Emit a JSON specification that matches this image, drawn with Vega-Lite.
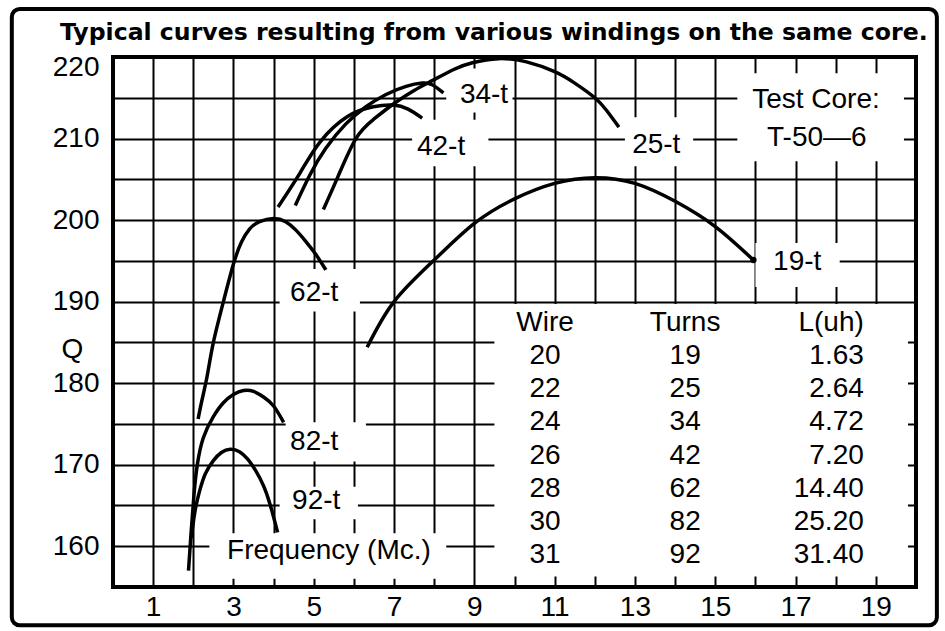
{
  "$schema": "https://vega.github.io/schema/vega-lite/v6.json",
  "width": 803,
  "height": 530,
  "autosize": {"type": "none"},
  "padding": {"left": 113, "top": 57, "right": 29, "bottom": 44},
  "background": "white",
  "title": {
    "text": "Typical curves resulting from various windings on the same core.",
    "anchor": "start",
    "frame": "group",
    "dx": -53,
    "font": "DejaVu Sans",
    "fontSize": 23.6,
    "fontWeight": "bold",
    "color": "black",
    "baseline": "alphabetic",
    "offset": -57
  },
  "config": {
    "font": "Liberation Sans",
    "view": {"stroke": "black", "strokeWidth": 4}
  },
  "datasets": {
    "curves": [
      {"c": "92-t", "x": 1.95, "q": 161.0}, {"c": "92-t", "x": 2.05, "q": 164.5}, {"c": "92-t", "x": 2.17, "q": 167.0},
      {"c": "92-t", "x": 2.3, "q": 168.9}, {"c": "92-t", "x": 2.5, "q": 170.5}, {"c": "92-t", "x": 2.7, "q": 171.5},
      {"c": "92-t", "x": 2.92, "q": 171.9}, {"c": "92-t", "x": 3.15, "q": 171.6}, {"c": "92-t", "x": 3.35, "q": 170.7},
      {"c": "92-t", "x": 3.55, "q": 169.3}, {"c": "92-t", "x": 3.75, "q": 167.4}, {"c": "92-t", "x": 3.92, "q": 165.0},
      {"c": "92-t", "x": 4.1, "q": 161.7},
      {"c": "82-t", "x": 1.88, "q": 157.0}, {"c": "82-t", "x": 1.95, "q": 162.0}, {"c": "82-t", "x": 2.02, "q": 166.5},
      {"c": "82-t", "x": 2.1, "q": 170.0}, {"c": "82-t", "x": 2.25, "q": 173.3}, {"c": "82-t", "x": 2.5, "q": 175.9},
      {"c": "82-t", "x": 2.75, "q": 177.6}, {"c": "82-t", "x": 3.0, "q": 178.6}, {"c": "82-t", "x": 3.25, "q": 179.1},
      {"c": "82-t", "x": 3.5, "q": 179.0}, {"c": "82-t", "x": 3.75, "q": 178.3}, {"c": "82-t", "x": 4.0, "q": 177.2},
      {"c": "82-t", "x": 4.25, "q": 175.2},
      {"c": "62-t", "x": 2.12, "q": 175.6}, {"c": "62-t", "x": 2.22, "q": 178.0}, {"c": "62-t", "x": 2.35, "q": 181.0},
      {"c": "62-t", "x": 2.5, "q": 185.0}, {"c": "62-t", "x": 2.75, "q": 190.0}, {"c": "62-t", "x": 3.0, "q": 194.6},
      {"c": "62-t", "x": 3.2, "q": 197.3}, {"c": "62-t", "x": 3.4, "q": 198.9}, {"c": "62-t", "x": 3.65, "q": 199.8},
      {"c": "62-t", "x": 4.0, "q": 200.2}, {"c": "62-t", "x": 4.3, "q": 199.8}, {"c": "62-t", "x": 4.55, "q": 198.8},
      {"c": "62-t", "x": 4.8, "q": 197.4}, {"c": "62-t", "x": 5.05, "q": 195.8}, {"c": "62-t", "x": 5.3, "q": 193.9},
      {"c": "42-t", "x": 4.11, "q": 201.6}, {"c": "42-t", "x": 4.66, "q": 205.8}, {"c": "42-t", "x": 5.16, "q": 209.6},
      {"c": "42-t", "x": 5.84, "q": 212.7}, {"c": "42-t", "x": 6.48, "q": 213.9}, {"c": "42-t", "x": 6.98, "q": 214.1},
      {"c": "42-t", "x": 7.35, "q": 213.6}, {"c": "42-t", "x": 7.7, "q": 212.5},
      {"c": "34-t", "x": 4.54, "q": 201.8}, {"c": "34-t", "x": 4.9, "q": 205.5}, {"c": "34-t", "x": 5.3, "q": 208.8},
      {"c": "34-t", "x": 5.8, "q": 211.8}, {"c": "34-t", "x": 6.3, "q": 213.9}, {"c": "34-t", "x": 6.8, "q": 215.4},
      {"c": "34-t", "x": 7.3, "q": 216.4}, {"c": "34-t", "x": 7.7, "q": 216.8}, {"c": "34-t", "x": 7.95, "q": 216.6},
      {"c": "34-t", "x": 8.23, "q": 215.6},
      {"c": "25-t", "x": 5.24, "q": 201.3}, {"c": "25-t", "x": 5.6, "q": 205.3}, {"c": "25-t", "x": 6.05, "q": 210.0},
      {"c": "25-t", "x": 6.5, "q": 212.4}, {"c": "25-t", "x": 7.0, "q": 214.3}, {"c": "25-t", "x": 7.5, "q": 215.9},
      {"c": "25-t", "x": 7.95, "q": 217.1}, {"c": "25-t", "x": 8.5, "q": 218.5}, {"c": "25-t", "x": 8.95, "q": 219.3},
      {"c": "25-t", "x": 9.6, "q": 219.8}, {"c": "25-t", "x": 10.3, "q": 219.4}, {"c": "25-t", "x": 11.0, "q": 218.2},
      {"c": "25-t", "x": 11.5, "q": 216.8}, {"c": "25-t", "x": 12.0, "q": 215.0}, {"c": "25-t", "x": 12.3, "q": 213.4},
      {"c": "25-t", "x": 12.6, "q": 211.4},
      {"c": "19-t", "x": 6.33, "q": 184.4}, {"c": "19-t", "x": 7.0, "q": 190.0}, {"c": "19-t", "x": 8.0, "q": 195.1},
      {"c": "19-t", "x": 9.0, "q": 199.6}, {"c": "19-t", "x": 10.0, "q": 202.6}, {"c": "19-t", "x": 11.0, "q": 204.5},
      {"c": "19-t", "x": 12.0, "q": 205.2}, {"c": "19-t", "x": 13.0, "q": 204.5}, {"c": "19-t", "x": 14.0, "q": 202.3},
      {"c": "19-t", "x": 15.0, "q": 199.2}, {"c": "19-t", "x": 15.95, "q": 195.1}
    ],
    "labels": [
      {"t": "34-t", "x": 8.64, "q": 215.35},
      {"t": "42-t", "x": 7.57, "q": 209.0},
      {"t": "25-t", "x": 12.93, "q": 209.2},
      {"t": "Test Core:", "x": 15.92, "q": 214.7},
      {"t": "T-50—6", "x": 16.29, "q": 210.1},
      {"t": "19-t", "x": 16.44, "q": 194.9},
      {"t": "62-t", "x": 4.41, "q": 191.1},
      {"t": "82-t", "x": 4.41, "q": 172.75},
      {"t": "92-t", "x": 4.46, "q": 165.5},
      {"t": "Frequency (Mc.)", "x": 2.84, "q": 159.4}
    ],
    "boxes": [
      {"x": 4.15, "x2": 6.15, "q": 188.8, "q2": 194.0},
      {"x": 4.3, "x2": 6.3, "q": 170.4, "q2": 175.2},
      {"x": 4.15, "x2": 6.1, "q": 163.3, "q2": 167.3},
      {"x": 2.4, "x2": 8.3, "q": 156.0, "q2": 161.6},
      {"x": 8.3, "x2": 9.95, "q": 213.2, "q2": 218.6},
      {"x": 7.45, "x2": 9.35, "q": 206.6, "q2": 212.3},
      {"x": 12.75, "x2": 14.45, "q": 206.6, "q2": 212.6},
      {"x": 15.55, "x2": 19.7, "q": 207.2, "q2": 218.0},
      {"x": 16.0, "x2": 18.1, "q": 191.8, "q2": 197.2},
      {"x": 9.5, "x2": 19.8, "q": 156.3, "q2": 189.7}
    ],
    "table": [
      {"wire": "Wire", "turns": "Turns", "L": "L(uh)", "q": 187.4},
      {"wire": "20", "turns": "19", "L": "1.63", "q": 183.3},
      {"wire": "22", "turns": "25", "L": "2.64", "q": 179.25},
      {"wire": "24", "turns": "34", "L": "4.72", "q": 175.2},
      {"wire": "26", "turns": "42", "L": "7.20", "q": 171.1},
      {"wire": "28", "turns": "62", "L": "14.40", "q": 167.05},
      {"wire": "30", "turns": "82", "L": "25.20", "q": 163.0},
      {"wire": "31", "turns": "92", "L": "31.40", "q": 158.95}
    ]
  },
  "layer": [
    {
      "data": {"name": "boxes"},
      "mark": {"type": "rect", "fill": "white", "stroke": null},
      "encoding": {
        "x": {
          "field": "x", "type": "quantitative",
          "scale": {"domain": [0, 20], "nice": false, "zero": false},
          "axis": {
            "values": [0,1,2,3,4,5,6,7,8,9,10,11,12,13,14,15,16,17,18,19,20],
            "labelExpr": "datum.value % 2 == 1 ? datum.label : ''",
            "grid": true, "gridColor": "black", "gridWidth": 2, "gridOpacity": 1,
            "ticks": false, "domain": false, "title": null,
            "labelFont": "Liberation Sans", "labelFontSize": 28, "labelColor": "black",
            "labelPadding": 6, "labelFlush": false, "labelOverlap": false
          }
        },
        "x2": {"field": "x2"},
        "y": {
          "field": "q", "type": "quantitative",
          "scale": {"domain": [155, 220], "nice": false, "zero": false},
          "axis": {
            "values": [155,160,165,170,175,180,185,190,195,200,205,210,215,220],
            "labelExpr": "datum.value % 10 == 0 ? datum.label : ''",
            "grid": true, "gridColor": "black", "gridWidth": 2, "gridOpacity": 1,
            "ticks": false, "domain": false,
            "title": "Q", "titleAngle": 0, "titleX": -41, "titleY": 292,
            "titleAlign": "center", "titleBaseline": "middle",
            "titleFont": "Liberation Sans", "titleFontSize": 28, "titleFontWeight": "normal", "titleColor": "black",
            "labelFont": "Liberation Sans", "labelFontSize": 28, "labelColor": "black",
            "labelPadding": 14, "labelFlush": true, "labelFlushOffset": 4, "labelOverlap": false
          }
        },
        "y2": {"field": "q2"}
      }
    },
    {
      "data": {"name": "curves"},
      "mark": {"type": "line", "color": "black", "strokeWidth": 3.5, "interpolate": "natural"},
      "encoding": {
        "x": {"field": "x", "type": "quantitative"},
        "y": {"field": "q", "type": "quantitative"},
        "detail": {"field": "c"}
      }
    },
    {
      "data": {"values": [{"x": 15.95, "q": 195.1}]},
      "mark": {"type": "point", "filled": true, "color": "black", "size": 40, "opacity": 1},
      "encoding": {
        "x": {"field": "x", "type": "quantitative"},
        "y": {"field": "q", "type": "quantitative"}
      }
    },
    {
      "data": {"name": "labels"},
      "mark": {"type": "text", "align": "left", "baseline": "middle", "font": "Liberation Sans", "fontSize": 28, "color": "black"},
      "encoding": {
        "x": {"field": "x", "type": "quantitative"},
        "y": {"field": "q", "type": "quantitative"},
        "text": {"field": "t"}
      }
    },
    {
      "data": {"name": "table"},
      "mark": {"type": "text", "align": "center", "baseline": "middle", "font": "Liberation Sans", "fontSize": 28, "color": "black"},
      "encoding": {
        "x": {"datum": 10.76, "type": "quantitative"},
        "y": {"field": "q", "type": "quantitative"},
        "text": {"field": "wire"}
      }
    },
    {
      "data": {"name": "table"},
      "mark": {"type": "text", "align": "center", "baseline": "middle", "font": "Liberation Sans", "fontSize": 28, "color": "black"},
      "encoding": {
        "x": {"datum": 14.25, "type": "quantitative"},
        "y": {"field": "q", "type": "quantitative"},
        "text": {"field": "turns"}
      }
    },
    {
      "data": {"name": "table"},
      "mark": {"type": "text", "align": "right", "baseline": "middle", "font": "Liberation Sans", "fontSize": 28, "color": "black"},
      "encoding": {
        "x": {"datum": 18.7, "type": "quantitative"},
        "y": {"field": "q", "type": "quantitative"},
        "text": {"field": "L"}
      }
    },
    {
      "data": {"values": [{}]},
      "mark": {"type": "rect", "fill": null, "stroke": "black", "strokeWidth": 4, "cornerRadius": 8},
      "encoding": {
        "x": {"datum": -2.52, "type": "quantitative"},
        "x2": {"datum": 20.52},
        "y": {"datum": 225.9, "type": "quantitative"},
        "y2": {"datum": 150.3}
      }
    }
  ]
}
